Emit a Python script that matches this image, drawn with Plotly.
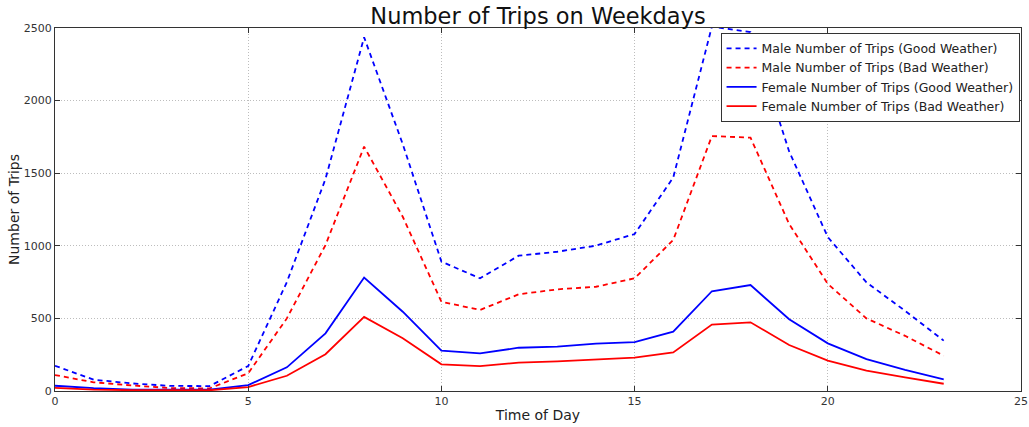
import plotly.graph_objects as go

hours = list(range(24))
male_good = [174, 78, 52, 35, 34, 172, 750, 1460, 2436, 1700, 891, 776, 932, 959, 1001, 1081,
             1470, 2510, 2472, 1650, 1060, 748, 552, 347]
male_bad = [110, 60, 38, 20, 18, 122, 500, 1005, 1683, 1200, 615, 558, 666, 700, 718, 776,
            1040, 1756, 1745, 1150, 738, 500, 380, 243]
female_good = [36, 20, 10, 8, 10, 40, 163, 397, 781, 546, 278, 259, 298, 305, 326, 337,
               409, 687, 730, 494, 328, 220, 145, 80]
female_bad = [22, 10, 5, 4, 5, 27, 105, 253, 510, 363, 184, 172, 195, 204, 218, 230,
              266, 457, 473, 317, 209, 140, 94, 50]

series = [
    ("Male Number of Trips (Good Weather)", male_good, "#0000ff", "5px,4px"),
    ("Male Number of Trips (Bad Weather)", male_bad, "#ff0000", "5px,4px"),
    ("Female Number of Trips (Good Weather)", female_good, "#0000ff", "solid"),
    ("Female Number of Trips (Bad Weather)", female_bad, "#ff0000", "solid"),
]

fig = go.Figure()
for name, vals, color, dash in series:
    fig.add_trace(go.Scatter(x=hours, y=vals, mode="lines", name=name,
                             line=dict(color=color, width=1.8, dash=dash)))

font_family = "DejaVu Sans"
axis_common = dict(
    showline=True, linecolor="#333333", linewidth=1.2, mirror="ticks",
    ticks="inside", ticklen=5, tickcolor="#333333",
    showgrid=True, gridcolor="#bdbdbd", griddash="1px,2px", gridwidth=1,
    zeroline=False, automargin=False,
    tickfont=dict(family=font_family, size=11, color="#333333"),
)

fig.update_layout(
    width=1029, height=427,
    margin=dict(l=55, r=8, t=28, b=36, autoexpand=False),
    paper_bgcolor="white", plot_bgcolor="white",
    font=dict(family=font_family, color="#111111"),
    title=dict(text="Number of Trips on Weekdays", x=(55 + 1021) / 2 / 1029, xanchor="center",
               y=1 - 16 / 427, yanchor="middle", automargin=False,
               font=dict(size=22.5, family=font_family, color="#111111")),
    xaxis=dict(range=[0, 25], tickvals=[0, 5, 10, 15, 20, 25],
               title=dict(text="Time of Day", font=dict(size=14, family=font_family, color="#222222"), standoff=2),
               **axis_common),
    yaxis=dict(range=[0, 2500], tickvals=[0, 500, 1000, 1500, 2000, 2500],
               title=dict(text="Number of Trips", font=dict(size=14, family=font_family, color="#222222"), standoff=0),
               **axis_common),
    legend=dict(x=0.9985, xanchor="right", y=0.987, yanchor="top",
                bgcolor="white", bordercolor="#333333", borderwidth=1,
                font=dict(size=12.5, family=font_family, color="#222222"),
                tracegroupgap=0, itemwidth=30),
    showlegend=True,
)

fig.write_html("out.html", config={"displayModeBar": False},
               post_script="document.body.style.margin='0';document.body.style.overflow='hidden';")
